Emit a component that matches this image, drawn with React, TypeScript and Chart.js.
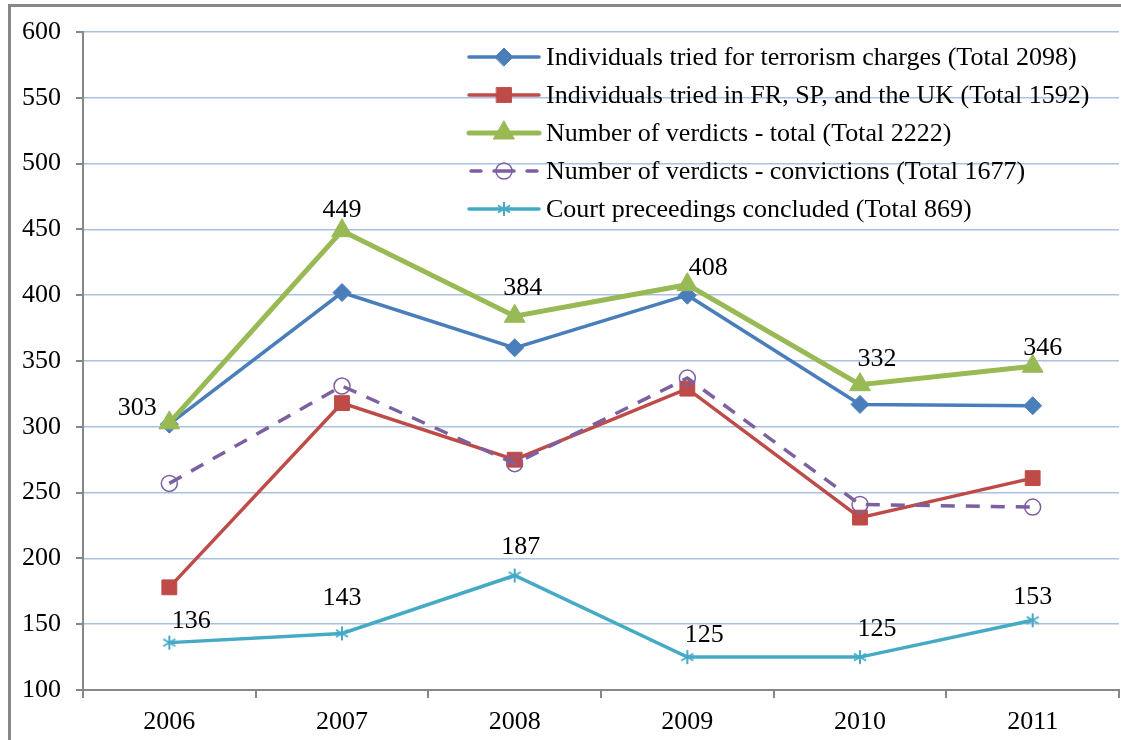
import React, { useEffect, useRef } from 'react';
import { Chart, registerables } from 'chart.js';
import { drawPoint } from 'chart.js/helpers';

Chart.register(...registerables);

const years = ['2006', '2007', '2008', '2009', '2010', '2011'];
const triedTerrorism = [302, 402, 360, 400, 317, 316];
const triedFrSpUk = [178, 318, 275, 329, 231, 261];
const verdictsTotal = [303, 449, 384, 408, 332, 346];
const verdictsConvictions = [257, 331, 272, 337, 241, 239];
const courtConcluded = [136, 143, 187, 125, 125, 153];
const seriesLabels = [
  'Individuals tried for terrorism charges (Total 2098)',
  'Individuals tried in FR, SP, and the UK (Total 1592)',
  'Number of verdicts - total (Total 2222)',
  'Number of verdicts - convictions (Total 1677)',
  'Court preceedings concluded (Total 869)',
];
const yMin = 100;
const yMax = 600;
const yStep = 50;

// label placement offsets (style only)
const greenLabelOffsets = [[-32, -15], [0, -21], [8, -28], [21, -17], [17, -26], [10, -18]];
const cyanLabelOffsets = [[22, -21], [0, -35], [6, -28], [17, -22], [17, -28], [0, -23]];

const FONT = "'Liberation Serif', 'Times New Roman', serif";
const FS = 26;
const GRID = '#a9c2df';
const AXIS = '#878787';
const CYAN = '#46aac5';

function makeAsterisk(): HTMLCanvasElement {
  const c = document.createElement('canvas');
  c.width = 16;
  c.height = 16;
  const g = c.getContext('2d')!;
  g.strokeStyle = CYAN;
  g.lineWidth = 2;
  g.lineCap = 'butt';
  const cx = 8, cy = 8, r = 7;
  g.beginPath();
  g.moveTo(cx, cy - r);
  g.lineTo(cx, cy + r);
  for (const a of [30, 150]) {
    const rad = (a * Math.PI) / 180;
    g.moveTo(cx - Math.cos(rad) * r, cy - Math.sin(rad) * r);
    g.lineTo(cx + Math.cos(rad) * r, cy + Math.sin(rad) * r);
  }
  g.stroke();
  return c;
}

const styles = [
  { color: '#4a7ebb', pointStyle: 'rectRot' as any, radius: 9, width: 3.5, dash: [] as number[], fill: true },
  { color: '#be4b48', pointStyle: 'rect' as any, radius: 10.5, width: 3.5, dash: [], fill: true },
  { color: '#98b954', pointStyle: 'triangle' as any, radius: 12, width: 5, dash: [], fill: true },
  { color: '#7d60a0', pointStyle: 'circle' as any, radius: 8, width: 3.5, dash: [14, 11], fill: false },
  { color: CYAN, pointStyle: 'star' as any, radius: 7, width: 3.5, dash: [], fill: true },
];

const zeroPad = (s: any) => {
  s.paddingTop = 0;
  s.paddingBottom = 0;
  s.paddingLeft = 0;
  s.paddingRight = 0;
};

const overlayPlugin = {
  id: 'overlay',
  afterDraw(chart: any) {
    const ctx = chart.ctx as CanvasRenderingContext2D;
    const { chartArea } = chart;
    const xs = chart.scales.x;
    const ys = chart.scales.y;
    ctx.save();
    // tick marks
    ctx.strokeStyle = AXIS;
    ctx.lineWidth = 2;
    for (let v = yMin; v <= yMax; v += yStep) {
      const y = Math.round(ys.getPixelForValue(v));
      ctx.beginPath();
      ctx.moveTo(chartArea.left - 7, y);
      ctx.lineTo(chartArea.left, y);
      ctx.stroke();
    }
    const n = years.length;
    const w = (chartArea.right - chartArea.left) / n;
    for (let i = 0; i <= n; i++) {
      const x = Math.round(chartArea.left + i * w);
      ctx.beginPath();
      ctx.moveTo(x, chartArea.bottom);
      ctx.lineTo(x, chartArea.bottom + 8);
      ctx.stroke();
    }
    // data labels
    ctx.fillStyle = '#000';
    ctx.font = `${FS}px ${FONT}`;
    ctx.textAlign = 'center';
    ctx.textBaseline = 'middle';
    verdictsTotal.forEach((v, i) => {
      const x = xs.getPixelForValue(i);
      const y = ys.getPixelForValue(v);
      ctx.fillText(String(v), x + greenLabelOffsets[i][0], y + greenLabelOffsets[i][1]);
    });
    courtConcluded.forEach((v, i) => {
      const x = xs.getPixelForValue(i);
      const y = ys.getPixelForValue(v);
      ctx.fillText(String(v), x + cyanLabelOffsets[i][0], y + cyanLabelOffsets[i][1]);
    });
    // legend
    const x0 = 469;
    const x1 = 539;
    const tx = 546;
    const rowY0 = 57;
    const gap = 38;
    seriesLabels.forEach((label, i) => {
      const s = styles[i];
      const y = rowY0 + i * gap;
      ctx.save();
      ctx.strokeStyle = s.color;
      ctx.lineWidth = s.width;
      ctx.lineCap = 'round';
      if (s.dash.length) {
        ctx.beginPath();
        ctx.moveTo(x0 + 2, y);
        ctx.lineTo(x0 + 12, y);
        ctx.moveTo(x1 - 12, y);
        ctx.lineTo(x1 - 2, y);
        ctx.moveTo((x0 + x1) / 2 - 10, y);
        ctx.lineTo((x0 + x1) / 2 + 10, y);
        ctx.stroke();
      } else {
        ctx.beginPath();
        ctx.moveTo(x0, y);
        ctx.lineTo(x1, y);
        ctx.stroke();
      }
      ctx.fillStyle = s.fill ? s.color : 'rgba(0,0,0,0)';
      ctx.lineWidth = s.fill ? 1 : 1.5;
      drawPoint(ctx, { pointStyle: s.pointStyle, radius: s.radius, rotation: 0, borderWidth: ctx.lineWidth }, (x0 + x1) / 2, y);
      ctx.restore();
      ctx.fillStyle = '#000';
      ctx.textAlign = 'left';
      ctx.textBaseline = 'middle';
      ctx.font = `${FS}px ${FONT}`;
      ctx.fillText(label, tx, y + 1);
    });
    ctx.restore();
  },
};

export default function App() {
  const ref = useRef<HTMLCanvasElement | null>(null);
  useEffect(() => {
    if (!ref.current) return;
    styles[4].pointStyle = makeAsterisk();
    const allData = [triedTerrorism, triedFrSpUk, verdictsTotal, verdictsConvictions, courtConcluded];
    const chart = new Chart(ref.current, {
      type: 'line',
      data: {
        labels: years,
        datasets: allData.map((d, i) => ({
          label: seriesLabels[i],
          data: d,
          borderColor: styles[i].color,
          backgroundColor: styles[i].fill ? styles[i].color : 'rgba(0,0,0,0)',
          borderWidth: styles[i].width,
          borderDash: styles[i].dash,
          pointStyle: styles[i].pointStyle,
          pointRadius: styles[i].radius,
          pointBorderWidth: styles[i].fill ? 1 : 1.5,
          pointBackgroundColor: styles[i].fill ? styles[i].color : 'rgba(0,0,0,0)',
          pointBorderColor: styles[i].color,
          tension: 0,
          fill: false,
          order: 5 - i,
          clip: false as any,
        })),
      },
      options: {
        animation: false,
        responsive: false,
        devicePixelRatio: 1,
        layout: { autoPadding: false, padding: { left: 0, right: 2, top: 32, bottom: 0 } },
        plugins: { legend: { display: false }, tooltip: { enabled: false } },
        scales: {
          x: {
            offset: true,
            grid: { drawOnChartArea: false, drawTicks: false, offset: true },
            border: { display: true, color: AXIS, width: 2 },
            ticks: { color: '#000', font: { family: FONT, size: FS }, padding: 17 },
            afterFit: (s: any) => { s.height = 50; zeroPad(s); },
          },
          y: {
            min: yMin,
            max: yMax,
            ticks: { stepSize: yStep, color: '#000', font: { family: FONT, size: FS }, padding: 22 },
            grid: { color: GRID, lineWidth: 1.5, drawTicks: false },
            border: { display: true, color: AXIS, width: 2 },
            afterFit: (s: any) => { s.width = 83; zeroPad(s); },
          },
        },
      },
      plugins: [overlayPlugin],
    });
    return () => chart.destroy();
  }, []);
  return (
    <div style={{ position: 'fixed', left: 0, top: 0, width: 1121, height: 740, background: '#fff' }}>
      <canvas ref={ref} width={1121} height={740} style={{ position: 'absolute', left: 0, top: 0 }} />
      <div style={{ position: 'absolute', left: 8, top: 4, width: 1113, height: 736, borderLeft: `3px solid ${AXIS}`, borderTop: `3px solid ${AXIS}`, boxSizing: 'border-box', pointerEvents: 'none' }} />
    </div>
  );
}
